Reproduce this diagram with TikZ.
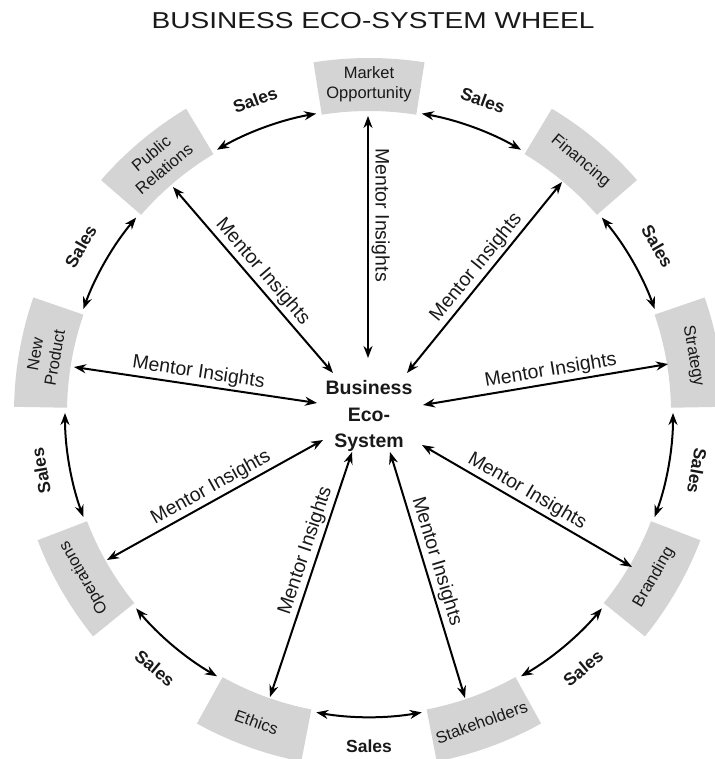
\documentclass[tikz,border=0pt]{standalone}
\usepackage{fontspec}
\setmainfont{Liberation Sans}
\usetikzlibrary{arrows.meta}
\definecolor{secgray}{RGB}{212,212,212}
\definecolor{txt}{RGB}{25,25,25}
\newcommand{\wheelsector}[4]{%
  \fill[sector] ([shift={(C)}]#1-9:302) arc[start angle=#1-9, end angle=#1+9, radius=302]
    -- ([shift={(C)}]#1+9:355) arc[start angle=#1+9, end angle=#1-9, radius=355] -- cycle;
  \node[seclabel, rotate=#2] (#3) at ([shift={(C)}]#1:329) {#4};
}
\newcommand{\salesarc}[5]{%
  \coordinate (#5-start) at ([shift={(C)}]#1-10:304);
  \draw[conn] (#5-start) arc[start angle=#1-10, end angle=#2+10, radius=304];
  \node[sales, rotate=#4] (#5) at ([shift={(C)}]#3:333) {Sales};
}
\begin{document}
\begin{tikzpicture}[x=1pt,y=1pt,
  sector/.style={fill=secgray},
  seclabel/.style={font=\fontsize{16.5}{20}\selectfont, align=center, text=txt},
  conn/.style={line width=2pt, {Stealth[length=12pt,width=9pt]}-{Stealth[length=12pt,width=9pt]}},
  mentor/.style={font=\fontsize{19.5}{22}\selectfont, text=txt, sloped, above, inner sep=2.5pt},
  sales/.style={font=\bfseries\fontsize{17.5}{20}\selectfont, text=txt},
]
\useasboundingbox (0,0) rectangle (714,-759);
\coordinate (C) at (369,-413);

% title
\node[font=\fontsize{23}{25}\selectfont, xscale=1.22, text=txt] (title) at (373,-21) {BUSINESS ECO-SYSTEM WHEEL};

% sectors
\wheelsector{90}{0}{mo}{Market\\Opportunity}
\wheelsector{50}{-40}{fin}{Financing}
\wheelsector{10}{-80}{str}{Strategy}
\wheelsector{-30}{60}{bra}{Branding}
\wheelsector{-70}{20}{stk}{Stakeholders}
\wheelsector{-110}{-20}{eth}{Ethics}
\wheelsector{-150}{120}{ops}{Operations}
\wheelsector{170}{80}{np}{New\\Product}
\wheelsector{130}{40}{pr}{Public\\Relations}

% centre
\node[font=\bfseries\fontsize{19.5}{26.5}\selectfont, align=center, text=txt] (centre) at (369,-416) {Business\\Eco-\\System};

% sales arcs
\salesarc{90}{50}{70}{-20}{s1}
\salesarc{50}{10}{30}{-60}{s2}
\salesarc{10}{-30}{-10}{-100}{s3}
\salesarc{-30}{-70}{-50}{40}{s4}
\salesarc{-70}{-110}{-90}{0}{s5}
\salesarc{-110}{-150}{-130}{-40}{s6}
\salesarc{-150}{-190}{-170}{100}{s7}
\salesarc{170}{130}{150}{60}{s8}
\salesarc{130}{90}{110}{20}{s9}

% spoke end points
\coordinate (iMO) at (368,-358);  \coordinate (oMO) at (368,-116);
\coordinate (iPR) at (333,-373);  \coordinate (oPR) at (173,-187);
\coordinate (iFI) at (407,-373);  \coordinate (oFI) at (562,-182);
\coordinate (iNP) at (317,-403);  \coordinate (oNP) at (74,-367);
\coordinate (iST) at (423,-405);  \coordinate (oST) at (668,-364);
\coordinate (iOP) at (323,-440);  \coordinate (oOP) at (107,-560);
\coordinate (iBR) at (422,-445);  \coordinate (oBR) at (632,-567);
\coordinate (iET) at (352,-452);  \coordinate (oET) at (270,-697);
\coordinate (iSK) at (390,-452);  \coordinate (oSK) at (465,-698);

% spokes
\draw[conn] (oMO) -- node[mentor, pos=0.41] (mMO) {Mentor Insights} (iMO);
\draw[conn] (iPR) -- node[mentor, pos=0.50] (mPR) {Mentor Insights} (oPR);
\draw[conn] (iFI) -- node[mentor, pos=0.51] (mFI) {Mentor Insights} (oFI);
\draw[conn] (iNP) -- node[mentor, pos=0.495] (mNP) {Mentor Insights} (oNP);
\draw[conn] (iST) -- node[mentor, pos=0.53] (mST) {Mentor Insights} (oST);
\draw[conn] (iOP) -- node[mentor, pos=0.49] (mOP) {Mentor Insights} (oOP);
\draw[conn] (iBR) -- node[mentor, pos=0.47] (mBR) {Mentor Insights} (oBR);
\draw[conn] (iET) -- node[mentor, pos=0.42] (mET) {Mentor Insights} (oET);
\draw[conn] (iSK) -- node[mentor, pos=0.46] (mSK) {Mentor Insights} (oSK);
\end{tikzpicture}
\end{document}
